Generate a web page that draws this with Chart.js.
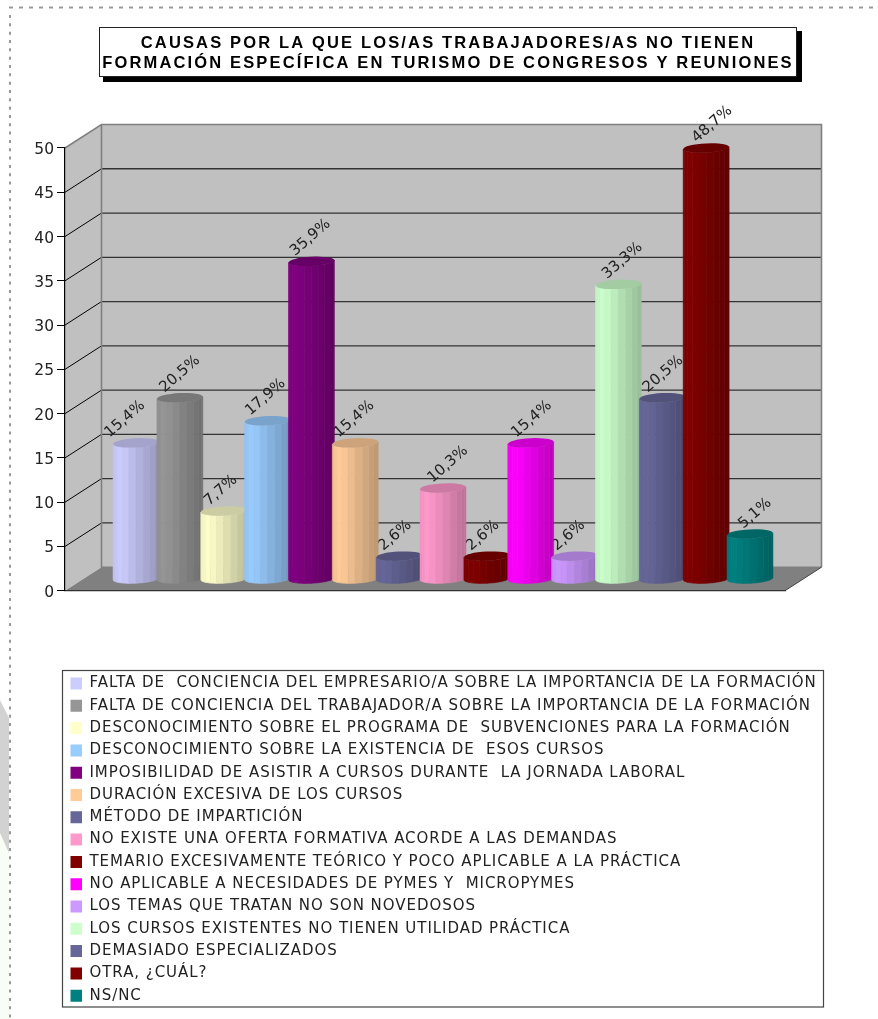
<!DOCTYPE html>
<html><head><meta charset="utf-8">
<style>html,body{margin:0;padding:0;background:#fff}#w{width:878px;height:1019px;position:relative}</style>
<script src="https://cdn.jsdelivr.net/npm/chart.js@4"></script>
</head><body><div id="w"><canvas id="c" width="878" height="1019"></canvas></div>
<script>
const titleLines = ["CAUSAS POR LA QUE LOS/AS TRABAJADORES/AS NO TIENEN","FORMACIÓN ESPECÍFICA EN TURISMO DE CONGRESOS Y REUNIONES"];
const causes = [
"FALTA DE  CONCIENCIA DEL EMPRESARIO/A SOBRE LA IMPORTANCIA DE LA FORMACIÓN",
"FALTA DE CONCIENCIA DEL TRABAJADOR/A SOBRE LA IMPORTANCIA DE LA FORMACIÓN",
"DESCONOCIMIENTO SOBRE EL PROGRAMA DE  SUBVENCIONES PARA LA FORMACIÓN",
"DESCONOCIMIENTO SOBRE LA EXISTENCIA DE  ESOS CURSOS",
"IMPOSIBILIDAD DE ASISTIR A CURSOS DURANTE  LA JORNADA LABORAL",
"DURACIÓN EXCESIVA DE LOS CURSOS",
"MÉTODO DE IMPARTICIÓN",
"NO EXISTE UNA OFERTA FORMATIVA ACORDE A LAS DEMANDAS",
"TEMARIO EXCESIVAMENTE TEÓRICO Y POCO APLICABLE A LA PRÁCTICA",
"NO APLICABLE A NECESIDADES DE PYMES Y  MICROPYMES",
"LOS TEMAS QUE TRATAN NO SON NOVEDOSOS",
"LOS CURSOS EXISTENTES NO TIENEN UTILIDAD PRÁCTICA",
"DEMASIADO ESPECIALIZADOS",
"OTRA, ¿CUÁL?",
"NS/NC"];
const values = [15.4,20.5,7.7,17.9,35.9,15.4,2.6,10.3,2.6,15.4,2.6,33.3,20.5,48.7,5.1];
const colors = ["#CCCCFF","#969696","#FFFFCC","#99CCFF","#800080","#FFCC99","#666699","#FF99CC","#800000","#FF00FF","#CC99FF","#CCFFCC","#666699","#800000","#008080"];
const categories = [""];
const yTicks = {min:0,max:50,step:5};
const labelNudgeX = [-11,0,-3,-2,-1,-1,-4,5,-4,1,-6,4,1,6,5];

const DX=36.5, DY=23.5;            // depth of the 3D box
const MID_X=18, MID_Y=11.5;        // bars stand in the middle of the depth
const ALL_FONT='"DejaVu Sans", Verdana, sans-serif';

function shade(hex,f){
  const n=parseInt(hex.slice(1),16);
  const c=[n>>16&255,n>>8&255,n&255].map(v=>Math.round(Math.min(255,v*f)));
  return `rgb(${c[0]},${c[1]},${c[2]})`;
}
function facetFactor(t){ // t = 0..1 left to right
  if(t<0.18) return 0.95+t/0.18*0.05;
  return 1-0.27*(t-0.18)/0.82;
}
function cylinder(ctx,cx,yTop,yBase,w,color){
  const rx=w/2, ry=4.6, tilt=-0.05, N=10;
  const pt=(a,y)=>{const x=cx-rx*Math.cos(a);return [x,y+ry*Math.sin(a)+(x-cx)*tilt];};
  for(let i=0;i<N;i++){
    const a=Math.PI*i/N,b=Math.PI*(i+1)/N;
    const A=pt(a,yTop),B=pt(b,yTop),C=pt(b,yBase),D=pt(a,yBase);
    const t=((A[0]+B[0])/2-(cx-rx))/w;
    const f=facetFactor(t);
    ctx.beginPath();ctx.moveTo(A[0],A[1]);ctx.lineTo(B[0],B[1]);ctx.lineTo(C[0],C[1]);ctx.lineTo(D[0],D[1]);ctx.closePath();
    ctx.fillStyle=shade(color,f);ctx.fill();
    ctx.strokeStyle=i>=N-4?shade(color,f*1.05):shade(color,f);
    ctx.lineWidth=0.6;ctx.stroke();
  }
  ctx.save();ctx.translate(cx,yTop);ctx.rotate(Math.atan(tilt));
  ctx.beginPath();ctx.ellipse(0,0,rx,ry,0,0,Math.PI*2);ctx.fillStyle=shade(color,0.8);ctx.fill();ctx.restore();
}
function spaced(box,ctx,amount){
  if(box._spaced) return;
  const d=box.draw.bind(box);
  box.draw=function(a){ctx.save();ctx.letterSpacing=amount;d(a);ctx.restore();};
  box._spaced=true;
}

const scene={
  id:'scene',
  afterLayout(chart){
    const t=chart.titleBlock; t.left=18;t.right=878;
    const l=chart.legend;
    l.left=63.2;l.top=668.7;l.right=826;l.bottom=1018.5;
    spaced(t,chart.ctx,'2.15px');
    spaced(l,chart.ctx,'0.95px');
  },
  beforeDraw(chart){
    const ctx=chart.ctx,{left,right}=chart.chartArea,y=chart.scales.y;
    ctx.save();
    // page furniture
    ctx.fillStyle='#f8fdf5';ctx.beginPath();ctx.moveTo(0,833);ctx.lineTo(9,853);ctx.lineTo(9,1019);ctx.lineTo(0,1019);ctx.closePath();ctx.fill();
    ctx.fillStyle='#d2d2d2';ctx.beginPath();ctx.moveTo(0,700);ctx.lineTo(9,718);ctx.lineTo(9,853);ctx.lineTo(0,833);ctx.closePath();ctx.fill();
    ctx.strokeStyle='#999';ctx.lineWidth=2;ctx.setLineDash([4,6]);
    ctx.beginPath();ctx.moveTo(9,7.5);ctx.lineTo(878,7.5);ctx.stroke();
    ctx.setLineDash([3,5.33]);
    ctx.beginPath();ctx.moveTo(10,15);ctx.lineTo(10,1019);ctx.stroke();
    ctx.setLineDash([]);
    // title frame
    ctx.fillStyle='#000';ctx.fillRect(103,31,699,51);
    ctx.fillStyle='#fff';ctx.fillRect(99.5,27.5,697,49);
    ctx.strokeStyle='#222';ctx.lineWidth=1;ctx.strokeRect(99.5,27.5,697,49);
    // legend frame
    ctx.fillStyle='#fff';ctx.fillRect(62.5,670.5,761,336.5);
    ctx.strokeStyle='#444';ctx.lineWidth=1.2;ctx.strokeRect(62.5,670.5,761,336.5);
    // 3D box
    const y0=y.getPixelForValue(0),yM=y.getPixelForValue(50);
    ctx.fillStyle='#C0C0C0';
    ctx.fillRect(left+DX,yM-DY,right-left,y0-yM);
    ctx.beginPath();ctx.moveTo(left,yM);ctx.lineTo(left+DX,yM-DY);ctx.lineTo(left+DX,y0-DY);ctx.lineTo(left,y0);ctx.closePath();ctx.fill();
    ctx.fillStyle='#808080';
    ctx.beginPath();ctx.moveTo(left,y0);ctx.lineTo(right,y0);ctx.lineTo(right+DX,y0-DY);ctx.lineTo(left+DX,y0-DY);ctx.closePath();ctx.fill();
    y.ticks.forEach(t=>{
      const p=y.getPixelForValue(t.value);
      if(t.value>0&&t.value<50){
        ctx.strokeStyle='#000';ctx.lineWidth=1;
        ctx.beginPath();ctx.moveTo(left,p);ctx.lineTo(left+DX,p-DY);ctx.stroke();
        ctx.strokeStyle='#333';ctx.lineWidth=1.3;
        ctx.beginPath();ctx.moveTo(left+DX,p-DY);ctx.lineTo(right+DX,p-DY);ctx.stroke();
      }
    });
    ctx.strokeStyle='#808080';ctx.lineWidth=1.6;
    ctx.beginPath();ctx.moveTo(left,yM);ctx.lineTo(left+DX,yM-DY);ctx.lineTo(right+DX,yM-DY);ctx.lineTo(right+DX,y0-DY);
    ctx.moveTo(left+DX,yM-DY);ctx.lineTo(left+DX,y0-DY);ctx.lineTo(right+DX,y0-DY);ctx.stroke();
    ctx.strokeStyle='#444';ctx.lineWidth=1;
    ctx.beginPath();ctx.moveTo(right,y0);ctx.lineTo(right+DX,y0-DY);ctx.stroke();
    ctx.restore();
  },
  beforeDatasetsDraw(chart){
    const ctx=chart.ctx;
    ctx.save();
    chart.data.datasets.forEach((ds,i)=>{
      const el=chart.getDatasetMeta(i).data[0];
      ctx.save();
      const txt=ds.data[0].toFixed(1).replace('.',',')+'%';
      ctx.font='15px '+ALL_FONT;ctx.fillStyle='#222';ctx.textAlign='center';ctx.textBaseline='middle';
      const w=ctx.measureText(txt).width,ang=41*Math.PI/180;
      ctx.translate(el.x+MID_X+labelNudgeX[i],el.y-MID_Y-8-w/2*Math.sin(ang));
      ctx.rotate(-ang);
      ctx.fillText(txt,0,0);
      ctx.restore();
    });
    chart.data.datasets.forEach((ds,i)=>{
      const el=chart.getDatasetMeta(i).data[0];
      cylinder(ctx,el.x+MID_X,el.y-MID_Y,el.base-MID_Y,el.width+2,ds.backgroundColor);
    });
    ctx.restore();
  },
  beforeDatasetDraw(){return false;}
};

new Chart(document.getElementById('c'),{
  type:'bar',
  data:{labels:categories,datasets:causes.map((c,i)=>({label:c,data:[values[i]],backgroundColor:colors[i],borderWidth:0,categoryPercentage:0.9137,barPercentage:1}))},
  plugins:[scene],
  options:{
    responsive:false,animation:false,
    layout:{padding:{left:0,right:93,top:0,bottom:428.3}},
    events:[],
    plugins:{
      tooltip:{enabled:false},
      title:{display:true,text:titleLines,align:'center',color:'#000',font:{family:'"Liberation Sans", Arial, sans-serif',size:16.5,weight:'bold',lineHeight:1.212},padding:{top:33.5,bottom:74.5}},
      legend:{position:'chartArea',align:'start',labels:{boxWidth:11.5,boxHeight:12,padding:7.3,color:'#222',font:{family:ALL_FONT,size:15}}}
    },
    scales:{
      x:{display:true,ticks:{display:false},grid:{display:false,drawTicks:false},border:{color:'#333',width:1.2}},
      y:{min:yTicks.min,max:yTicks.max,ticks:{stepSize:yTicks.step,color:'#222',padding:3,labelOffset:2,font:{family:ALL_FONT,size:15.5}},
         grid:{drawOnChartArea:false,tickLength:8,tickColor:'#000',lineWidth:1},border:{color:'#000',width:1.2},
         afterFit(s){s.width=65;}}
    }
  }
});
</script></body></html>
